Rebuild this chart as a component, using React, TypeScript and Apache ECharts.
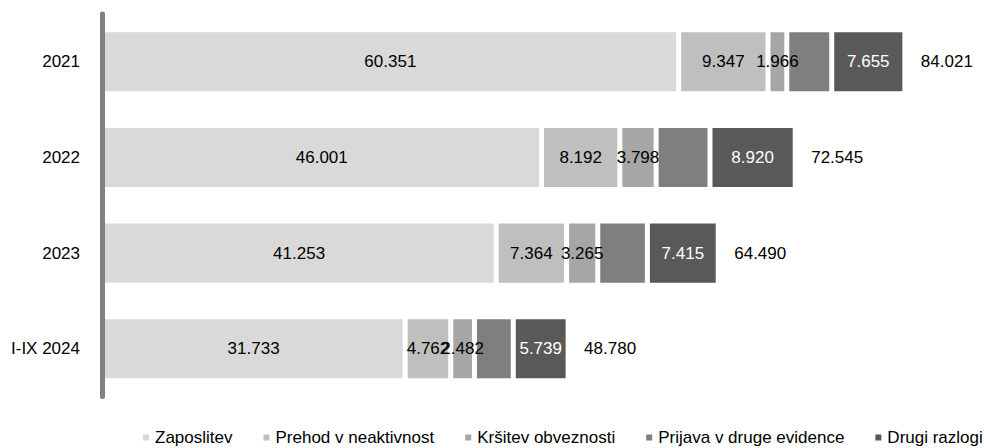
import React, { useEffect, useRef } from "react";
import * as echarts from "echarts";

const categories = ["2021", "2022", "2023", "I-IX 2024"];
const seriesNames = [
  "Zaposlitev",
  "Prehod v neaktivnost",
  "Kršitev obveznosti",
  "Prijava v druge evidence",
  "Drugi razlogi",
];
const zaposlitev = [60351, 46001, 41253, 31733];
const prehod = [9347, 8192, 7364, 4762];
const krsitev = [1966, 3798, 3265, 2482];
const prijava = [4702, 5634, 5193, 4064];
const drugi = [7655, 8920, 7415, 5739];
const totals = [84021, 72545, 64490, 48780];

const colors = ["#d9d9d9", "#bfbfbf", "#a6a6a6", "#7f7f7f", "#595959"];
const labelShown = [true, true, true, false, true];
const labelColors = ["#000000", "#000000", "#000000", "#000000", "#ffffff"];

const FONT = "'Liberation Sans', Arial, sans-serif";

function fmt(v: number): string {
  const s = Math.round(v).toString();
  return s.replace(/\B(?=(\d{3})+(?!\d))/g, ".");
}

export default function App() {
  const ref = useRef<HTMLDivElement>(null);
  useEffect(() => {
    document.body.style.margin = "0";
    if (!ref.current) return;
    const chart = echarts.init(ref.current, undefined, { renderer: "svg" });
    const values = [zaposlitev, prehod, krsitev, prijava, drugi];
    const series: any[] = values.map((data, i) => ({
      name: seriesNames[i],
      type: "bar",
      stack: "total",
      barCategoryGap: "33%",
      data,
      itemStyle: { color: colors[i], borderColor: "#ffffff", borderWidth: 2.5 },
      label: {
        show: labelShown[i],
        position: "inside",
        color: labelColors[i],
        fontFamily: FONT,
        fontSize: 17,
        formatter: (p: any) => fmt(p.value),
      },
    }));
    series.push({
      name: "Skupaj",
      type: "bar",
      stack: "total",
      data: totals.map(() => 0),
      itemStyle: { color: "transparent" },
      label: {
        show: true,
        position: "right",
        distance: 16,
        color: "#000000",
        fontFamily: FONT,
        fontSize: 17,
        formatter: (p: any) => fmt(totals[p.dataIndex]),
      },
    });
    chart.setOption({
      animation: false,
      color: colors,
      grid: { left: 102, top: 14, bottom: 51.4, width: 860 },
      xAxis: {
        type: "value",
        min: 0,
        max: 90000,
        show: false,
      },
      yAxis: {
        type: "category",
        data: categories,
        inverse: true,
        offset: 2,
        z: 10,
        axisLine: { show: true, lineStyle: { color: "#808080", width: 5 } },
        axisTick: { show: false },
        axisLabel: { color: "#000000", fontFamily: FONT, fontSize: 17, margin: 20 },
      },
      legend: {
        data: seriesNames,
        left: 141,
        right: 0,
        top: 429,
        padding: 0,
        itemWidth: 8,
        itemHeight: 8,
        itemGap: 29,
        icon: "rect",
        textStyle: { fontFamily: FONT, fontSize: 17, color: "#000000" },
      },
      series,
    });
    return () => chart.dispose();
  }, []);
  return <div ref={ref} style={{ width: 984, height: 448 }} />;
}
